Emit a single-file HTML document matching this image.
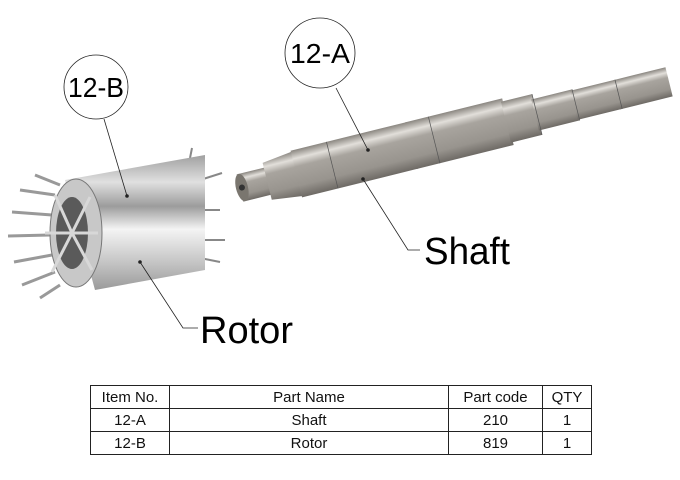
<!DOCTYPE html>
<html><head><style>
body{margin:0;background:#fff;width:680px;height:480px;overflow:hidden;position:relative;font-family:"Liberation Sans",sans-serif}
table{position:absolute;left:90px;top:385px;border-collapse:collapse;font-size:15px;color:#111}
td{border:1.5px solid #222;height:22px;padding:0;text-align:center}
</style></head><body>
<svg width="680" height="480" style="position:absolute;left:0;top:0">
<defs>
<linearGradient id="sg" x1="0" y1="0" x2="0" y2="1">
<stop offset="0" stop-color="#8a8680"/><stop offset="0.18" stop-color="#e2dfda"/><stop offset="0.35" stop-color="#a8a49e"/><stop offset="0.75" stop-color="#98948e"/><stop offset="1" stop-color="#6e6a65"/></linearGradient>
<linearGradient id="rg" x1="0" y1="0" x2="0" y2="1">
<stop offset="0" stop-color="#a0a0a0"/><stop offset="0.2" stop-color="#e0e0e0"/><stop offset="0.38" stop-color="#9c9c9c"/><stop offset="0.55" stop-color="#f4f4f4"/><stop offset="0.8" stop-color="#c4c4c4"/><stop offset="1" stop-color="#9a9a9a"/></linearGradient>
</defs>
<!-- shaft -->
<g transform="translate(240,188) rotate(-13.9)">
<rect x="0" y="-14" width="30" height="28" fill="url(#sg)"/>
<polygon points="28,-19 60,-23 60,23 28,19" fill="url(#sg)"/>
<rect x="58" y="-24" width="120" height="48" fill="url(#sg)"/>
<rect x="176" y="-24" width="100" height="48" fill="url(#sg)"/>
<rect x="274" y="-21" width="32" height="42" fill="url(#sg)"/>
<rect x="304" y="-16" width="42" height="32" fill="url(#sg)"/>
<rect x="344" y="-15" width="46" height="30" fill="url(#sg)"/>
<rect x="388" y="-15" width="54" height="30" fill="url(#sg)"/>
<ellipse cx="2" cy="0" rx="6" ry="14" fill="#7a766f"/>
<circle cx="2" cy="0" r="3" fill="#333"/>
<g stroke="#555" stroke-width="0.7">
<line x1="95" y1="-24" x2="95" y2="24"/><line x1="200" y1="-24" x2="200" y2="24"/>
<line x1="306" y1="-21" x2="306" y2="21"/><line x1="346" y1="-16" x2="346" y2="16"/><line x1="390" y1="-15" x2="390" y2="15"/>
</g>
</g>
<!-- rotor -->
<g stroke="#999" stroke-width="3">
<line x1="55" y1="195" x2="20" y2="190"/><line x1="52" y1="215" x2="12" y2="212"/>
<line x1="50" y1="235" x2="8" y2="236"/><line x1="52" y1="255" x2="14" y2="262"/>
<line x1="55" y1="272" x2="22" y2="285"/><line x1="60" y1="285" x2="40" y2="298"/>
<line x1="60" y1="185" x2="35" y2="175"/>
</g>
<g stroke="#888" stroke-width="2">
<line x1="200" y1="180" x2="222" y2="173"/><line x1="200" y1="210" x2="220" y2="210"/>
<line x1="200" y1="240" x2="225" y2="240"/><line x1="200" y1="258" x2="220" y2="262"/><line x1="190" y1="158" x2="192" y2="148"/>
</g>
<polygon points="65,180 205,155 205,270 95,290" fill="url(#rg)"/>
<ellipse cx="76" cy="233" rx="26" ry="54" fill="#c8c8c8" stroke="#777"/>
<ellipse cx="72" cy="233" rx="16" ry="36" fill="#5a5a5a"/>
<g stroke="#d8d8d8" stroke-width="3">
<line x1="72" y1="233" x2="55" y2="195"/><line x1="72" y1="233" x2="90" y2="197"/>
<line x1="72" y1="233" x2="52" y2="272"/><line x1="72" y1="233" x2="92" y2="270"/>
<line x1="72" y1="233" x2="45" y2="233"/><line x1="72" y1="233" x2="98" y2="233"/>
</g>
<!-- balloons & leaders -->
<g fill="none" stroke="#222" stroke-width="0.8">
<circle cx="320" cy="53" r="35" fill="#fff"/>
<circle cx="96" cy="87" r="32" fill="#fff"/>
<line x1="336" y1="88" x2="368" y2="150"/>
<polyline points="363,179 408,250 420,250"/>
<line x1="104" y1="119" x2="127" y2="196"/>
<polyline points="140,262 183,328 198,328"/>
</g>
<circle cx="368" cy="150" r="1.8" fill="#222"/>
<circle cx="363" cy="179" r="1.8" fill="#222"/>
<circle cx="127" cy="196" r="1.8" fill="#222"/>
<circle cx="140" cy="262" r="1.8" fill="#222"/>
<g font-family="Liberation Sans,sans-serif" fill="#000">
<text x="320" y="63" font-size="28" text-anchor="middle" textLength="60" lengthAdjust="spacingAndGlyphs">12-A</text>
<text x="96" y="97" font-size="28" text-anchor="middle" textLength="56" lengthAdjust="spacingAndGlyphs">12-B</text>
<text x="424" y="264" font-size="38" textLength="86" lengthAdjust="spacingAndGlyphs">Shaft</text>
<text x="200" y="343" font-size="38" textLength="93" lengthAdjust="spacingAndGlyphs">Rotor</text>
</g>
</svg>
<table>
<tr><td style="width:78px">Item No.</td><td style="width:278px">Part Name</td><td style="width:93px">Part code</td><td style="width:48px">QTY</td></tr>
<tr><td>12-A</td><td>Shaft</td><td>210</td><td>1</td></tr>
<tr><td>12-B</td><td>Rotor</td><td>819</td><td>1</td></tr>
</table>
</body></html>
